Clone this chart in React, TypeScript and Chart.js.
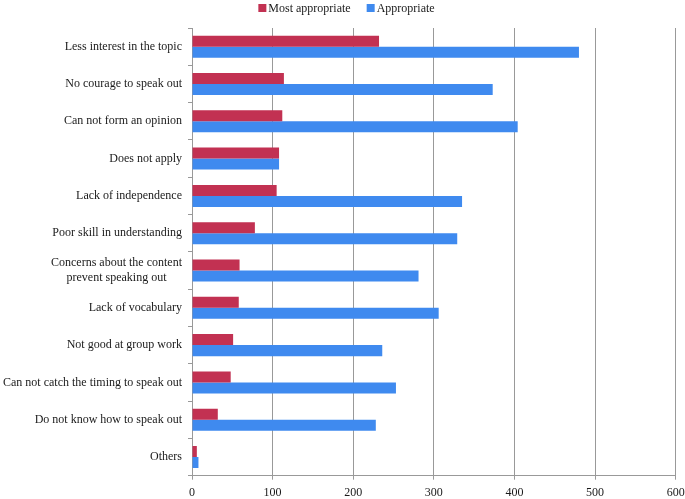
import React, { useEffect, useRef } from "react";
import { Chart, registerables } from "chart.js";

Chart.register(...registerables);

const categories: (string | string[])[] = [
  "Less interest in the topic",
  "No courage to speak out",
  "Can not form an opinion",
  "Does not apply",
  "Lack of independence",
  "Poor skill in understanding",
  ["Concerns about the content", "prevent speaking out"],
  "Lack of vocabulary",
  "Not good at group work",
  "Can not catch the timing to speak out",
  "Do not know how to speak out",
  "Others",
];

const mostAppropriate = [232, 114, 112, 108, 105, 78, 59, 58, 51, 48, 32, 6];
const appropriate = [480, 373, 404, 108, 335, 329, 281, 306, 236, 253, 228, 8];

const seriesNames = ["Most appropriate", "Appropriate"];
const seriesColors = ["#C23152", "#3F8AEF"];

const xMin = 0;
const xMax = 600;
const xStep = 100;

const FONT = "'Liberation Serif', 'Times New Roman', serif";
const TEXT = "#1a1a1a";

const customLegend = {
  id: "customLegend",
  afterDraw(chart: any) {
    const ctx = chart.ctx;
    ctx.save();
    ctx.font = `12px ${FONT}`;
    ctx.textBaseline = "middle";
    const boxSize = 8;
    const boxGap = 2;
    const itemGap = 16;
    const widths = seriesNames.map((n) => boxSize + boxGap + ctx.measureText(n).width);
    const total = widths.reduce((a, b) => a + b, 0) + itemGap * (widths.length - 1);
    let x = 346.5 - total / 2;
    const y = 8;
    seriesNames.forEach((n, i) => {
      ctx.fillStyle = seriesColors[i];
      ctx.fillRect(x, y - 4, boxSize, boxSize);
      ctx.fillStyle = TEXT;
      ctx.textAlign = "left";
      ctx.fillText(n, x + boxSize + boxGap, y + 1);
      x += widths[i] + itemGap;
    });
    ctx.restore();
  },
};

const categoryLabels = {
  id: "categoryLabels",
  afterDraw(chart: any) {
    const ctx = chart.ctx;
    const yScale = chart.scales.y;
    const right = yScale.right - 10;
    ctx.save();
    ctx.font = `12px ${FONT}`;
    ctx.textBaseline = "middle";
    ctx.textAlign = "center";
    ctx.fillStyle = TEXT;
    categories.forEach((lab, i) => {
      const yc = yScale.getPixelForTick(i);
      const lines = Array.isArray(lab) ? lab : [lab];
      const maxW = Math.max(...lines.map((l) => ctx.measureText(l).width));
      const cx = right - maxW / 2;
      const lh = 14.4;
      lines.forEach((l, j) => {
        ctx.fillText(l, cx, yc + (j - (lines.length - 1) / 2) * lh);
      });
    });
    ctx.restore();
  },
};

export default function App() {
  const ref = useRef<HTMLCanvasElement | null>(null);
  useEffect(() => {
    if (!ref.current) return;
    const chart = new Chart(ref.current, {
      type: "bar",
      data: {
        labels: categories,
        datasets: [
          {
            label: seriesNames[0],
            data: mostAppropriate,
            backgroundColor: seriesColors[0],
            borderWidth: 0,
            categoryPercentage: 0.59,
            barPercentage: 1,
          },
          {
            label: seriesNames[1],
            data: appropriate,
            backgroundColor: seriesColors[1],
            borderWidth: 0,
            categoryPercentage: 0.59,
            barPercentage: 1,
          },
        ],
      },
      options: {
        indexAxis: "y",
        animation: false,
        responsive: false,
        maintainAspectRatio: false,
        layout: { padding: { left: 0, right: 0, top: 28, bottom: 0 } },
        plugins: {
          legend: { display: false },
          tooltip: { enabled: false },
        },
        scales: {
          x: {
            min: xMin,
            max: xMax,
            afterFit: (scale: any) => {
              scale.height = 23.3;
              scale.paddingRight = 9.3;
            },
            ticks: {
              stepSize: xStep,
              font: { family: FONT, size: 12 },
              color: TEXT,
              padding: 6,
            },
            grid: {
              color: "#999",
              lineWidth: 1,
              tickLength: 4,
              drawTicks: true,
            },
            border: { color: "#999", width: 1 },
          },
          y: {
            afterFit: (scale: any) => {
              scale.width = 192;
            },
            ticks: {
              display: false,
              autoSkip: false,
            },
            grid: {
              offset: true,
              drawOnChartArea: false,
              drawTicks: true,
              tickLength: 4,
              color: "#999",
            },
            border: { color: "#999", width: 1 },
          },
        },
      },
      plugins: [customLegend, categoryLabels],
    });
    return () => chart.destroy();
  }, []);
  return (
    <div style={{ position: "fixed", left: 0, top: 0, width: 685, height: 499, background: "#fff" }}>
      <canvas ref={ref} width={685} height={499} />
    </div>
  );
}
